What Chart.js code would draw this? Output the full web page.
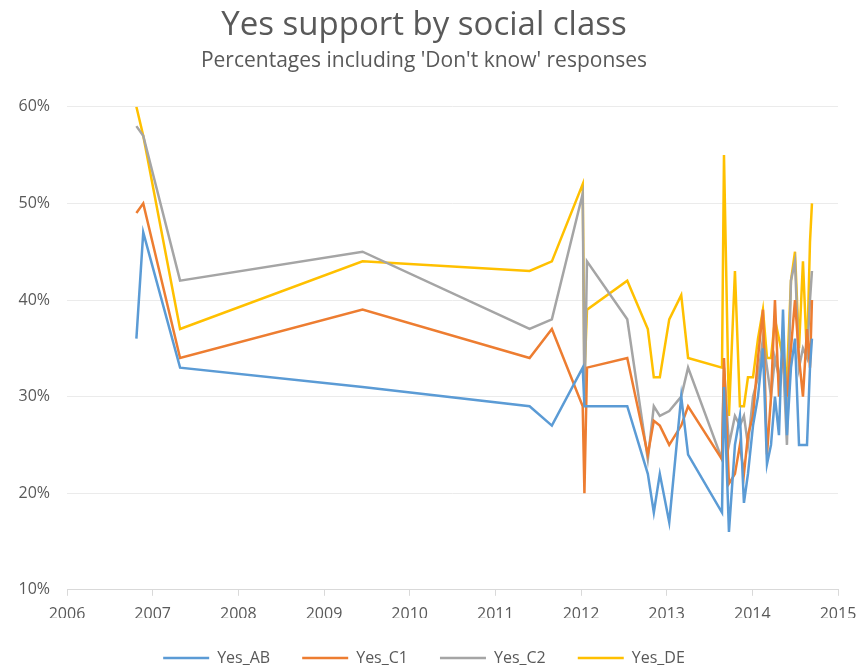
<!DOCTYPE html>
<html>
<head>
<meta charset="utf-8">
<title>Yes support by social class</title>
<script src="https://cdn.jsdelivr.net/npm/chart.js@4"></script>
<style>
  html, body { margin: 0; padding: 0; background: #fff; }
  #wrap { width: 867px; height: 672px; }
</style>
</head>
<body>
<div id="wrap"><canvas id="yesChart" width="867" height="672"></canvas></div>
<script>
// Poll dates as decimal years
const pollDates = [
  2006.81, 2006.89, 2007.32, 2009.45, 2011.40, 2011.66,
  2012.02, 2012.04, 2012.07, 2012.54, 2012.78, 2012.85, 2012.92,
  2013.03, 2013.17, 2013.25, 2013.646, 2013.669, 2013.727, 2013.797,
  2013.855, 2013.902, 2013.949, 2014.008, 2014.066, 2014.124, 2014.171,
  2014.218, 2014.264, 2014.311, 2014.358, 2014.404, 2014.451, 2014.498,
  2014.545, 2014.591, 2014.638, 2014.673, 2014.696
];

// Yes share (%) by social class
const yesAB = [
  36, 47, 33, 31, 29, 27,
  33, 29, 29, 29, 22, 18, 22,
  17, 30, 24, 18, 31, 16, 25,
  28, 19, 22, 27, 30, 35, 23,
  25, 30, 26, 39, 26, 33, 36,
  25, 25, 25, 33, 36
];
const yesC1 = [
  49, 50, 34, 39, 34, 37,
  29, 20, 33, 34, 24, 27.5, 27,
  25, 27, 29, 23.5, 34, 21, 22,
  25, 22, 26, 28, 34, 39, 24,
  30, 40, 30, 35, 30, 35, 40,
  34, 30, 37, 33, 40
];
const yesC2 = [
  58, 57, 42, 45, 37, 38,
  51, 29, 44, 38, 23.5, 29, 28,
  28.5, 30, 33, 23.5, 33, 25, 28,
  27, 28, 25, 30, 32, 36, 33,
  30, 34, 32, 34, 25, 42, 44,
  33, 35, 34, 40, 43
];
const yesDE = [
  60, 57, 37, 44, 43, 44,
  52, 32, 39, 42, 37, 32, 32,
  38, 40.5, 34, 33, 55, 28, 43,
  29, 29, 32, 32, 36, 39, 34,
  34, 38, 36, 34, 32, 42, 45,
  35, 44, 34, 46, 50
];

const yearTicks = [2006, 2007, 2008, 2009, 2010, 2011, 2012, 2013, 2014, 2015];
const pctTicks = [10, 20, 30, 40, 50, 60];

const textGrey = "#595959";
const font = "'Open Sans', 'Noto Sans', sans-serif";

function toPoints(values) {
  return pollDates.map((d, i) => ({ x: d, y: values[i] }));
}

function series(label, values, color) {
  return {
    label: label,
    data: toPoints(values),
    borderColor: color,
    backgroundColor: color,
    borderWidth: 2.5,
    pointRadius: 0,
    tension: 0,
  };
}

new Chart(document.getElementById("yesChart"), {
  type: "line",
  data: {
    datasets: [
      series("Yes_AB", yesAB, "#5b9bd5"),
      series("Yes_C1", yesC1, "#ed7d31"),
      series("Yes_C2", yesC2, "#a5a5a5"),
      series("Yes_DE", yesDE, "#ffc000"),
    ],
  },
  options: {
    responsive: false,
    animation: false,
    layout: { padding: { left: 10, right: 29, top: 4, bottom: -4 } },
    plugins: {
      title: {
        display: true,
        text: "Yes support by social class",
        color: textGrey,
        font: { family: font, size: 33, weight: "normal" },
        padding: { top: 2, bottom: 3 },
      },
      subtitle: {
        display: true,
        text: "Percentages including 'Don't know' responses",
        color: textGrey,
        font: { family: font, size: 21 },
        padding: { bottom: 33 },
      },
      legend: {
        position: "bottom",
        labels: {
          color: textGrey,
          font: { family: font, size: 16 },
          usePointStyle: true,
          pointStyle: "line",
          pointStyleWidth: 46,
          padding: 32,
        },
      },
      tooltip: { enabled: false },
    },
    scales: {
      x: {
        type: "linear",
        min: 2006,
        max: 2015,
        afterBuildTicks: (scale) => {
          scale.ticks = yearTicks.map((v) => ({ value: v }));
        },
        // trim the axis box so the plot reaches further down
        afterFit: (scale) => {
          scale.height = scale.height - 15;
        },
        ticks: {
          color: textGrey,
          font: { family: font, size: 16 },
          callback: (v) => String(v),
          maxRotation: 0,
          padding: 9,
        },
        grid: {
          drawOnChartArea: false,
          color: "#d9d9d9",
          tickLength: 6,
        },
        border: { color: "#d9d9d9" },
      },
      y: {
        min: 10,
        max: 60,
        afterBuildTicks: (scale) => {
          scale.ticks = pctTicks.map((v) => ({ value: v }));
        },
        afterFit: (scale) => {
          scale.width = 57;
        },
        ticks: {
          color: textGrey,
          font: { family: font, size: 16 },
          callback: (v) => v + "%",
          padding: 17,
        },
        grid: { color: "#ebebeb", drawTicks: false },
        border: { display: false },
      },
    },
  },
});
</script>
</body>
</html>
